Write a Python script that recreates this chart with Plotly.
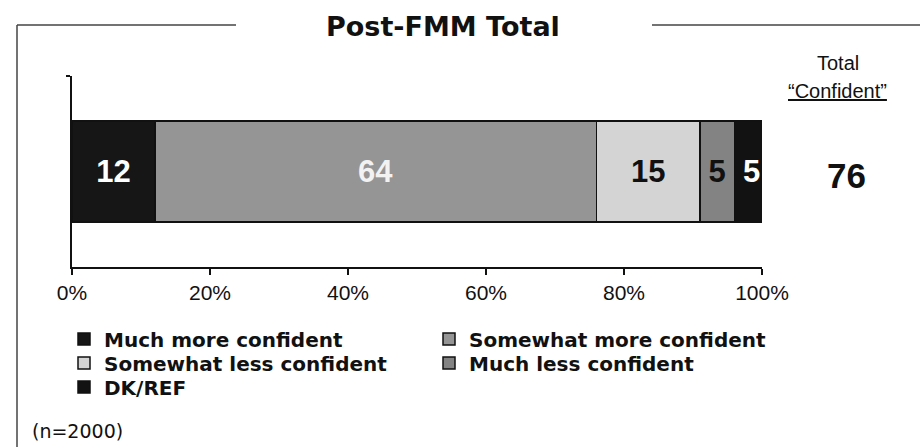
import plotly.graph_objects as go

# Survey responses (percent of respondents)
categories = ["Much more confident", "Somewhat more confident",
              "Somewhat less confident", "Much less confident", "DK/REF"]
values = [12, 64, 15, 5, 5]
bar_colors = ["#161616", "#959595", "#d4d4d4", "#838383", "#121212"]
label_colors = ["#ffffff", "#f2f2f2", "#111111", "#111111", "#ffffff"]
row_label = ["Post-FMM Total"]
tick_values = [0, 20, 40, 60, 80, 100]
tick_text = ["0%", "20%", "40%", "60%", "80%", "100%"]
total_confident = values[0] + values[1]
sample_note = "(n=2000)"

W, H = 920, 447
ML, MR, MT, MB = 72, 0, 76, 180
PW, PH = W - ML - MR, H - MT - MB
FONT = "Liberation Sans, Arial, sans-serif"
WIDE_FONT = "DejaVu Sans, Liberation Sans, sans-serif"
INK = "#111111"


def px_x(px):
    return (px - ML) / PW


def px_y(py):
    return (H - MB - py) / PH


# Legend laid out as three rows of up to two entries each
legend_rows = ["legend", "legend", "legend2", "legend2", "legend3"]

fig = go.Figure()
for name, val, col, tcol, lg in zip(categories, values, bar_colors,
                                     label_colors, legend_rows):
    fig.add_trace(go.Bar(
        x=[val], y=[0.5], name=name, orientation="h", width=0.527,
        legend=lg,
        marker=dict(color=col, line=dict(color=INK, width=1.5)),
        text=[f"<b>{val}</b>"], textposition="inside", insidetextanchor="middle",
        constraintext="none",
        textfont=dict(family=FONT, size=31, color=tcol),
        hoverinfo="skip",
    ))

legend_style = dict(
    orientation="h", xanchor="left", yanchor="middle", x=px_x(64),
    entrywidth=320, entrywidthmode="pixels", traceorder="normal",
    font=dict(family=WIDE_FONT, size=20, color=INK, weight="bold"),
    itemclick=False, itemdoubleclick=False, bgcolor="rgba(0,0,0,0)",
)

fig.update_layout(
    width=W, height=H, barmode="stack",
    margin=dict(l=ML, r=MR, t=MT, b=MB, autoexpand=False),
    paper_bgcolor="white", plot_bgcolor="white",
    font=dict(family=FONT, color=INK),
    showlegend=True,
    legend=dict(legend_style, y=px_y(339)),
    legend2=dict(legend_style, y=px_y(363)),
    legend3=dict(legend_style, y=px_y(387)),
    xaxis=dict(
        domain=[0, (762 - ML) / PW], range=[0, 100],
        tickvals=tick_values, ticktext=tick_text,
        ticks="outside", ticklen=6, tickwidth=2, tickcolor=INK,
        tickfont=dict(family=FONT, size=21, color=INK),
        showline=True, linecolor=INK, linewidth=2,
        showgrid=False, zeroline=False, fixedrange=True,
    ),
    yaxis=dict(
        range=[0, 1], tickvals=[1], showticklabels=False,
        ticks="outside", ticklen=4, tickwidth=2, tickcolor=INK,
        showline=True, linecolor=INK, linewidth=2,
        showgrid=False, zeroline=False, fixedrange=True,
    ),
)

# Title centred in the gap of the frame's top edge
fig.add_annotation(
    text=f"<b>{row_label[0]}</b>", xref="paper", yref="paper",
    x=px_x(443), y=px_y(26), xanchor="center", yanchor="middle",
    showarrow=False, font=dict(family=WIDE_FONT, size=27, color=INK),
)

# Frame around the chart, broken by the title
frame = dict(type="line", xref="paper", yref="paper",
             line=dict(color="#444444", width=1.5))
fig.add_shape(**frame, x0=px_x(17), y0=px_y(25), x1=px_x(236), y1=px_y(25))
fig.add_shape(**frame, x0=px_x(652), y0=px_y(25), x1=px_x(920), y1=px_y(25))
fig.add_shape(**frame, x0=px_x(17), y0=px_y(25), x1=px_x(17), y1=px_y(447))

# Total "Confident" column
fig.add_annotation(
    text="Total", xref="paper", yref="paper",
    x=px_x(838), y=px_y(63), xanchor="center", yanchor="middle",
    showarrow=False, font=dict(family=FONT, size=20, color=INK),
)
fig.add_annotation(
    text="<u>\u201cConfident\u201d</u>", xref="paper", yref="paper",
    x=px_x(837), y=px_y(91), xanchor="center", yanchor="middle",
    showarrow=False, font=dict(family=FONT, size=20, color=INK),
)
fig.add_annotation(
    text=f"<b>{total_confident}</b>", xref="paper", yref="paper",
    x=px_x(846), y=px_y(175), xanchor="center", yanchor="middle",
    showarrow=False, font=dict(family=FONT, size=35, color=INK),
)

# Sample size note
fig.add_annotation(
    text=sample_note, xref="paper", yref="paper",
    x=px_x(30), y=px_y(431), xanchor="left", yanchor="middle",
    showarrow=False, font=dict(family=WIDE_FONT, size=19, color=INK),
)

fig.write_html("out.html")
